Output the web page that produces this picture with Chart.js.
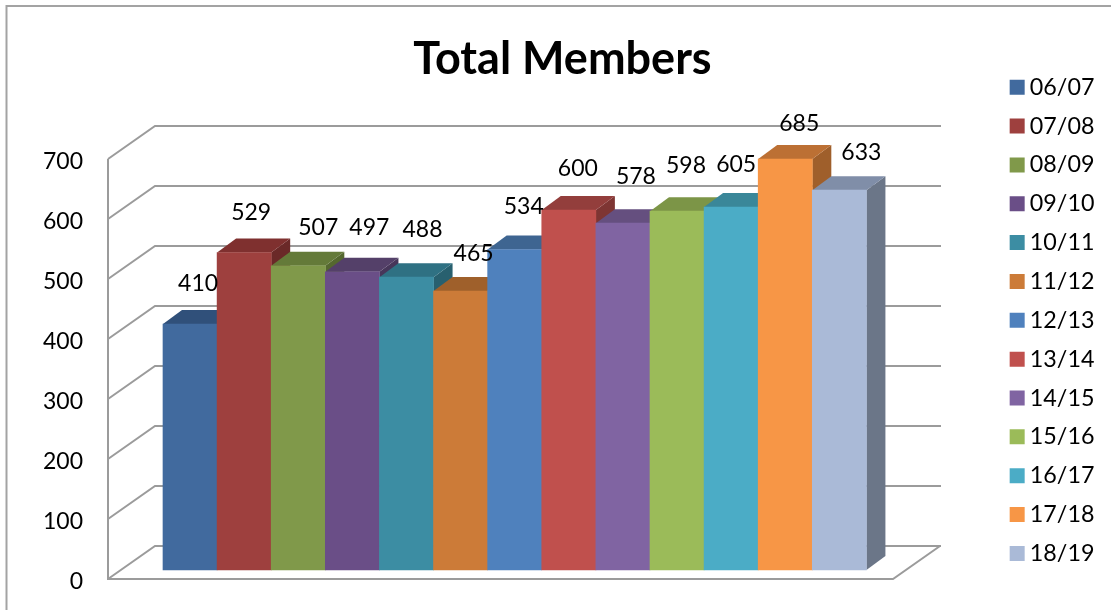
<!DOCTYPE html>
<html>
<head>
<meta charset="utf-8">
<title>Total Members</title>
<script src="https://cdn.jsdelivr.net/npm/chart.js@4"></script>
<style>
html, body { margin: 0; padding: 0; background: #fff; }
canvas { display: block; }
</style>
</head>
<body>
<canvas id="myChart" width="1111" height="610"></canvas>
<script>
// Data
var seasons = ['06/07', '07/08', '08/09', '09/10', '10/11', '11/12', '12/13', '13/14', '14/15', '15/16', '16/17', '17/18', '18/19'];
var members = [410, 529, 507, 497, 488, 465, 534, 600, 578, 598, 605, 685, 633];
var yTicks = [0, 100, 200, 300, 400, 500, 600, 700];

// Colours of each bar: front, top and side face
var frontColors = ['#416A9E', '#9E403E', '#80994A', '#6A4E87', '#3C8DA3', '#CC7B38', '#4F81BD', '#C0504D', '#8064A2', '#9BBB59', '#4BACC6', '#F79646', '#AABAD7'];
var topColors = ['#30507A', '#7F302F', '#647A39', '#544069', '#2F7183', '#9F602B', '#3E6591', '#933E3C', '#654F7F', '#7C9547', '#3A8799', '#BC7034', '#808EA8'];
var sideColors = ['#2A4566', '#6A2928', '#55682F', '#47365A', '#28606F', '#8A5326', '#34577D', '#7E3533', '#56436C', '#6A803D', '#317383', '#9F5F2B', '#6B7688'];

// The value labels were placed by hand in the original: offset from bar centre / bar top
var labelDx = [8, 7, 20, 17, 16, 13, 9, 9, 13, 9, 5, 14, 22];
var labelDy = [-40, -40, -38, -44, -48, -37, -43, -41, -47, -46, -42, -35, -38];

var fontName = 'Lato, "Noto Sans", sans-serif';
var lineColor = '#9b9b9b';
var wallDepth = { x: 47, y: 33 };
var barDepth = { x: 19, y: 14 };
var axisLeft = 108;
var floorRight = 893;
// tick labels sit a little lower than the wall lines
var tickNudge = 3;

function strokeLine(ctx, points) {
    ctx.beginPath();
    points.forEach(function(p, i) {
        if (i === 0) ctx.moveTo(p[0], p[1]);
        else ctx.lineTo(p[0], p[1]);
    });
    ctx.stroke();
}

function fillPoly(ctx, points, color) {
    ctx.fillStyle = color;
    ctx.beginPath();
    points.forEach(function(p, i) {
        if (i === 0) ctx.moveTo(p[0], p[1]);
        else ctx.lineTo(p[0], p[1]);
    });
    ctx.closePath();
    ctx.fill();
}

// Frame, walls and the top/side faces of the bars. The fronts are drawn by Chart.js afterwards.
var box3d = {
    id: 'box3d',
    beforeDraw: function(chart) {
        var ctx = chart.ctx;
        ctx.save();
        ctx.fillStyle = '#fff';
        ctx.fillRect(0, 0, chart.width, chart.height);
        ctx.strokeStyle = '#a3a3a3';
        ctx.lineWidth = 2;
        strokeLine(ctx, [[6.5, chart.height], [6.5, 6], [chart.width, 6]]);
        ctx.restore();
    },
    beforeDatasetsDraw: function(chart) {
        var ctx = chart.ctx;
        var y = chart.scales.y;
        var backRight = floorRight + wallDepth.x + 1;
        ctx.save();
        ctx.strokeStyle = lineColor;
        ctx.lineWidth = 2;
        ctx.lineJoin = 'miter';

        // wall lines, one for each tick
        yTicks.forEach(function(t) {
            var py = y.getPixelForValue(t) - tickNudge;
            strokeLine(ctx, [[axisLeft, py], [axisLeft + wallDepth.x, py - wallDepth.y], [backRight, py - wallDepth.y]]);
        });

        // axis line and floor
        var y0 = y.getPixelForValue(0) - tickNudge;
        var yTop = y.getPixelForValue(yTicks[yTicks.length - 1]) - tickNudge;
        strokeLine(ctx, [[axisLeft, yTop], [axisLeft, y0], [floorRight, y0], [floorRight + wallDepth.x, y0 - wallDepth.y]]);

        // left to right so that each bar covers what is behind it
        chart.getDatasetMeta(0).data.forEach(function(bar, i) {
            var half = bar.width / 2;
            var l = bar.x - half;
            var r = bar.x + half;
            var t = bar.y;
            var b = bar.base;
            fillPoly(ctx, [[r, t], [r + barDepth.x, t - barDepth.y], [r + barDepth.x, b - barDepth.y], [r, b]], sideColors[i]);
            fillPoly(ctx, [[l, t], [l + barDepth.x, t - barDepth.y], [r + barDepth.x, t - barDepth.y], [r, t]], topColors[i]);
        });
        ctx.restore();
    },
    afterDatasetsDraw: function(chart) {
        var ctx = chart.ctx;
        ctx.save();
        ctx.fillStyle = '#000';
        ctx.font = '23px ' + fontName;
        ctx.textAlign = 'center';
        ctx.textBaseline = 'middle';
        chart.getDatasetMeta(0).data.forEach(function(bar, i) {
            ctx.fillText(String(members[i]), bar.x + labelDx[i], bar.y + labelDy[i]);
        });
        ctx.restore();
    }
};

var ctx = document.getElementById('myChart').getContext('2d');
var chart = new Chart(ctx, {
    type: 'bar',
    plugins: [box3d],
    data: {
        labels: seasons,
        datasets: [{
            label: 'Total Members',
            data: members,
            yAxisID: 'yBars',
            backgroundColor: frontColors,
            borderWidth: 0,
            barPercentage: 1,
            categoryPercentage: 1,
            clip: false
        }]
    },
    options: {
        responsive: false,
        animation: false,
        layout: { padding: { left: 20.6, right: 6.6, top: 0, bottom: 28 } },
        plugins: {
            tooltip: { enabled: false },
            title: {
                display: true,
                text: 'Total Members',
                color: '#000',
                font: { family: fontName, size: 45, weight: 'bold', lineHeight: 1 },
                padding: { top: 36.5, bottom: 80.5 }
            },
            legend: {
                position: 'right',
                align: 'start',
                // blank title only pushes the list down
                title: { display: true, text: ' ', padding: 22.8 },
                labels: {
                    color: '#000',
                    font: { family: fontName, size: 23.3 },
                    padding: 15.55,
                    // small box with a thick same colour border, keeps text close to the square
                    boxWidth: 2,
                    boxHeight: 2,
                    generateLabels: function() {
                        return seasons.map(function(s, i) {
                            return {
                                text: s,
                                fontColor: '#000',
                                fillStyle: frontColors[i],
                                strokeStyle: frontColors[i],
                                lineWidth: 13,
                                index: i
                            };
                        });
                    }
                }
            }
        },
        scales: {
            x: { display: false },
            y: {
                min: 0,
                max: 700,
                position: 'left',
                afterFit: function(scale) {
                    scale.width = 142.4;
                    // big tick padding below would otherwise shrink the chart area
                    scale.paddingTop = 0;
                    scale.paddingBottom = 0;
                },
                grid: { display: false, drawTicks: false },
                border: { display: false },
                ticks: {
                    stepSize: 100,
                    padding: 80,
                    color: '#000',
                    font: { family: fontName, size: 23 }
                }
            },
            // bars stand a bit in front of the wall, so their zero sits above the axis zero
            yBars: {
                min: -20,
                max: 680,
                position: 'right',
                afterFit: function(scale) { scale.width = 134.2; },
                grid: { display: false },
                border: { display: false },
                ticks: { display: false }
            }
        }
    }
});
</script>
</body>
</html>
